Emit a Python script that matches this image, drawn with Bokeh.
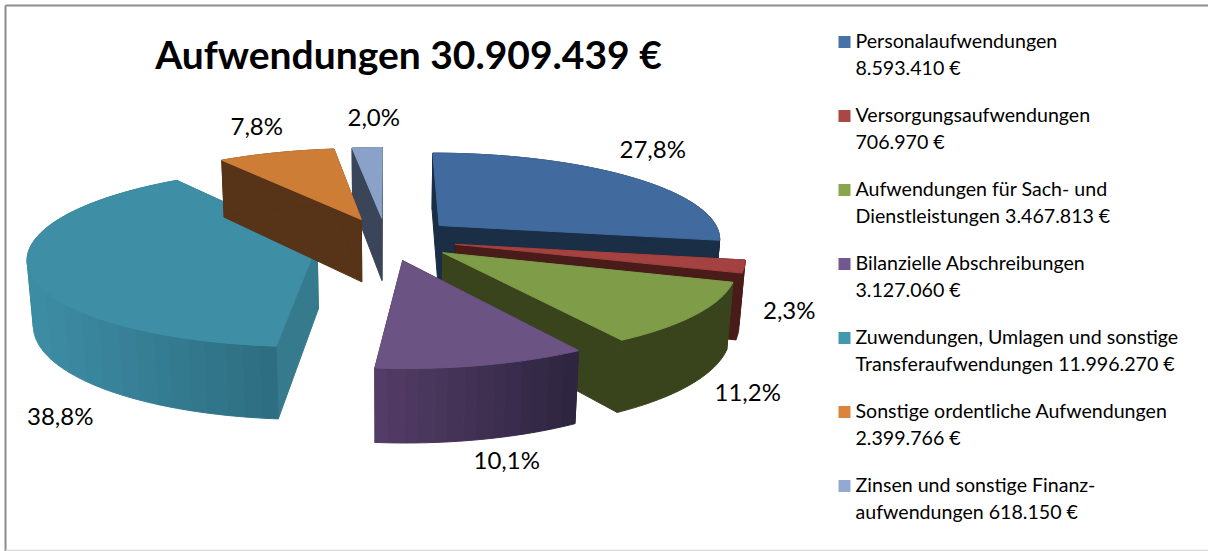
import math
from bokeh.plotting import figure
from bokeh.models import Range1d
from bokeh.core.properties import value
from bokeh.embed import file_html
from bokeh.resources import INLINE

# ---- data ----
title_text = "Aufwendungen 30.909.439 €"
values = [8593410, 706970, 3467813, 3127060, 11996270, 2399766, 618150]
legend_first = ["Personalaufwendungen", "Versorgungsaufwendungen", "Aufwendungen für Sach- und",
                "Bilanzielle Abschreibungen", "Zuwendungen, Umlagen und sonstige",
                "Sonstige ordentliche Aufwendungen", "Zinsen und sonstige Finanz-"]
legend_second = ["8.593.410 €", "706.970 €", "Dienstleistungen 3.467.813 €", "3.127.060 €",
                 "Transferaufwendungen 11.996.270 €", "2.399.766 €", "aufwendungen 618.150 €"]

# ---- styles ----
top_colors = ["#416B9E", "#A34240", "#7F9C49", "#6B5384", "#3E8EA6", "#CE7D37", "#8AA2C7"]
legend_colors = ["#4572A7", "#AA4643", "#89A54E", "#71588F", "#4198AF", "#DB843D", "#93A9CF"]
cut_colors = ["#1A2E46", "#491B19", "#39441D", "#3A2C4C", "#367B8D", "#573417", "#3B4559"]
rim_left = ["#1A2E46", "#491B19", "#39441D", "#533C66", "#3C8CA4", "#573417", "#3B4559"]
rim_right = ["#1A2E46", "#491B19", "#39441D", "#2E2540", "#2E6E82", "#573417", "#3B4559"]
draw_order = [6, 4, 5, 0, 1, 2, 3]

# percent label positions (left edge, vertical centre), in layout pixels
label_pos = [(619, 148), (762.5, 309), (714, 391), (473, 459), (26.5, 415), (230, 125), (347, 116)]

# ---- projection parameters ----
X0, Y0, F, G, K, D, M, EXPLODE = 385.6, 238.5, 283.0, 86.0, 0.14, 65.0, 0.017, 0.25
TITLE_PX, LEGEND_PX, LABEL_PX = 39, 19.6, 24
FONT = "Lato"
BANDS = 14


def project(wx, wy, z):
    w = 1 + K * wy + M * z
    return X0 + F * wx / w, Y0 - (G * wy - D * z) / w


def hex_mix(a, b, t):
    ca = [int(a[i:i + 2], 16) for i in (1, 3, 5)]
    cb = [int(b[i:i + 2], 16) for i in (1, 3, 5)]
    return "#%02x%02x%02x" % tuple(round(u + (v - u) * t) for u, v in zip(ca, cb))


p = figure(width=1208, height=551, output_backend="svg", toolbar_location=None,
           x_range=Range1d(0, 1208), y_range=Range1d(551, 0),
           x_axis_location=None, y_axis_location=None,
           min_border=0, outline_line_color=None, background_fill_color="white",
           border_fill_color="white", tools="")
p.grid.visible = False
p.styles = {"position": "absolute", "left": "0px", "top": "0px"}

# chart frame
p.line([5, 5], [551, 5], line_color="#8c8c8c", line_width=2)
p.line([5, 1208], [5, 5], line_color="#8c8c8c", line_width=2)
p.line([5, 1208], [550, 550], line_color="#d9d9d9", line_width=1.5)


def poly(xs, ys, c):
    p.patch(xs, ys, fill_color=c, line_color=c, line_width=1)


total = sum(values)
angles = [0.0]
for v in values:
    angles.append(angles[-1] + v / total * 2 * math.pi)

for i in draw_order:
    a0, a1 = angles[i], angles[i + 1]
    mid = (a0 + a1) / 2
    ax, ay = EXPLODE * math.sin(mid), EXPLODE * math.cos(mid)
    n = max(3, int((a1 - a0) / math.radians(1.0)))
    ts = [a0 + (a1 - a0) * j / n for j in range(n + 1)]
    rim = [(ax + math.sin(t), ay + math.cos(t)) for t in ts]
    # cut faces
    for (rx, ry) in (rim[0], rim[-1]):
        pts = [project(ax, ay, 0), project(rx, ry, 0), project(rx, ry, 1), project(ax, ay, 1)]
        poly([q[0] for q in pts], [q[1] for q in pts], cut_colors[i])
    # rim, drawn as vertical colour bands shaded from left to right
    top_pts = [project(x, y, 0) for x, y in rim]
    bot_pts = [project(x, y, 1) for x, y in rim]
    xmin = min(q[0] for q in top_pts)
    xmax = max(q[0] for q in top_pts)
    bands = 1 if rim_left[i] == rim_right[i] else BANDS
    run_start = 0
    run_key = None
    for j in range(n + 1):
        key = None
        if j < n:
            cx = (top_pts[j][0] + top_pts[j + 1][0]) / 2
            band = min(bands - 1, int((cx - xmin) / max(xmax - xmin, 1) * bands))
            key = (band, top_pts[j + 1][0] > top_pts[j][0])
        if key != run_key:
            if run_key is not None:
                c = hex_mix(rim_left[i], rim_right[i], run_key[0] / max(bands - 1, 1))
                seg_t = top_pts[run_start:j + 1]
                seg_b = bot_pts[run_start:j + 1]
                poly([q[0] for q in seg_t] + [q[0] for q in reversed(seg_b)],
                     [q[1] for q in seg_t] + [q[1] for q in reversed(seg_b)], c)
            run_start, run_key = j, key
    # top face
    apex = project(ax, ay, 0)
    poly([apex[0]] + [q[0] for q in top_pts], [apex[1]] + [q[1] for q in top_pts], top_colors[i])

# title
p.text([408], [53], text=[title_text], text_font=value(FONT), text_font_style="bold",
       text_font_size=f"{TITLE_PX}px", text_align="center", text_baseline="middle", text_color="black")

# percent labels
for v, (lx, ly) in zip(values, label_pos):
    s = f"{v / total * 100:.1f}%".replace(".", ",")
    p.text([lx], [ly], text=[s], text_font=value(FONT), text_font_size=f"{LABEL_PX}px",
           text_align="left", text_baseline="middle", text_color="black")

# legend
for i in range(len(values)):
    yc = 41.5 + 74 * i
    p.quad(left=[838], right=[850], top=[yc - 6], bottom=[yc + 6], fill_color=legend_colors[i], line_color=None)
    p.text([855], [yc - 1.5], text=[legend_first[i]], text_font=value(FONT), text_font_size=f"{LEGEND_PX}px",
           text_align="left", text_baseline="middle", text_color="black")
    p.text([855], [yc + 25.5], text=[legend_second[i]], text_font=value(FONT), text_font_size=f"{LEGEND_PX}px",
           text_align="left", text_baseline="middle", text_color="black")

open("out.html", "w").write(file_html(p, INLINE))
